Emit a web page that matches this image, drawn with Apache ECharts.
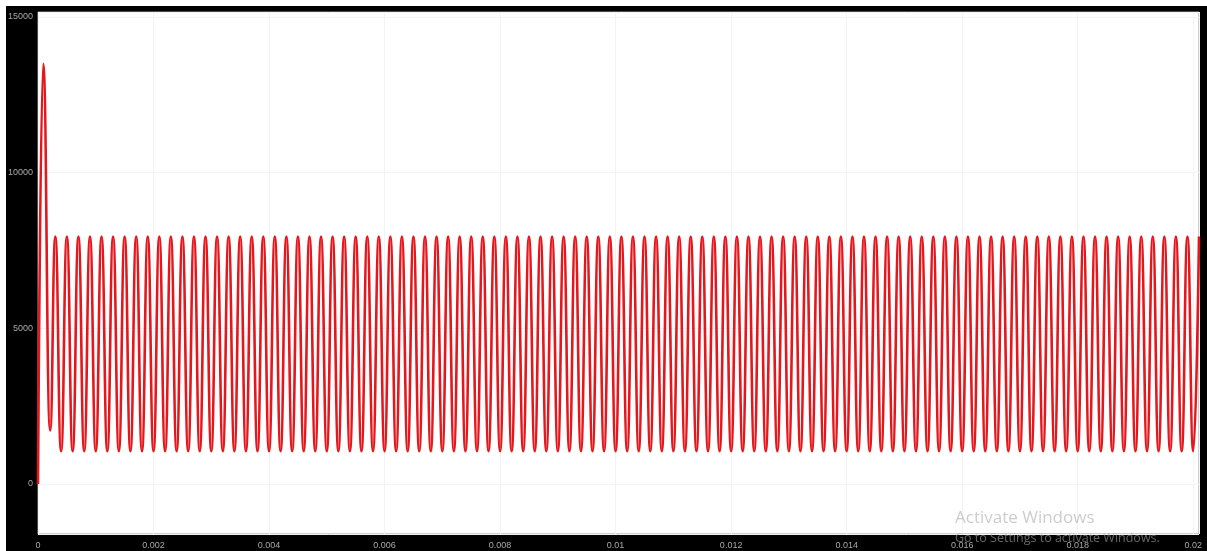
<!DOCTYPE html>
<html>
<head>
<meta charset="utf-8">
<title>Scope</title>
<script src="https://cdn.jsdelivr.net/npm/echarts@6/dist/echarts.min.js"></script>
<style>
  html, body { margin: 0; padding: 0; background: #fff; }
  #chart { width: 1207px; height: 551px; }
</style>
</head>
<body>
<div id="chart"></div>
<script>
// Start-up transient: time (s) and value
const startupTimes = [0, 0.00009, 0.00021];
const startupValues = [0, 13500, 1720];

// Steady oscillation: period 0.2 ms, first crest at 0.3 ms
const FIRST_PEAK = 0.0003;
const PERIOD = 0.0002;

// Crest values, one per cycle
const peakValues = [
  7950, 7950, 7950, 7950, 7950, 7950, 7950, 7950, 7950, 7950,
  7950, 7950, 7950, 7950, 7950, 7950, 7950, 7950, 7950, 7950,
  7950, 7950, 7950, 7950, 7950, 7950, 7950, 7950, 7950, 7950,
  7950, 7950, 7950, 7950, 7950, 7950, 7950, 7950, 7950, 7950,
  7950, 7950, 7950, 7950, 7950, 7950, 7950, 7950, 7950, 7950,
  7950, 7950, 7950, 7950, 7950, 7950, 7950, 7950, 7950, 7950,
  7950, 7950, 7950, 7950, 7950, 7950, 7950, 7950, 7950, 7950,
  7950, 7950, 7950, 7950, 7950, 7950, 7950, 7950, 7950, 7950,
  7950, 7950, 7950, 7950, 7950, 7950, 7950, 7950, 7950, 7950,
  7950, 7950, 7950, 7950, 7950, 7950, 7950, 7950, 7950, 7950
];

// Trough values between consecutive crests
const troughValues = [
  1050, 1050, 1050, 1050, 1050, 1050, 1050, 1050, 1050, 1050,
  1050, 1050, 1050, 1050, 1050, 1050, 1050, 1050, 1050, 1050,
  1050, 1050, 1050, 1050, 1050, 1050, 1050, 1050, 1050, 1050,
  1050, 1050, 1050, 1050, 1050, 1050, 1050, 1050, 1050, 1050,
  1050, 1050, 1050, 1050, 1050, 1050, 1050, 1050, 1050, 1050,
  1050, 1050, 1050, 1050, 1050, 1050, 1050, 1050, 1050, 1050,
  1050, 1050, 1050, 1050, 1050, 1050, 1050, 1050, 1050, 1050,
  1050, 1050, 1050, 1050, 1050, 1050, 1050, 1050, 1050, 1050,
  1050, 1050, 1050, 1050, 1050, 1050, 1050, 1050, 1050, 1050,
  1050, 1050, 1050, 1050, 1050, 1050, 1050, 1050, 1050
];

// Axis tick labels
const yTickLabels = ['0', '5000', '10000', '15000'];
const xTickLabels = ['0', '0.002', '0.004', '0.006', '0.008', '0.01', '0.012', '0.014', '0.016', '0.018', '0.02'];

// Assemble [time, value] pairs
const signal = [];
startupTimes.forEach((t, i) => signal.push([t, startupValues[i]]));
peakValues.forEach((v, k) => {
  const t = FIRST_PEAK + k * PERIOD;
  signal.push([+t.toFixed(6), v]);
  if (k < troughValues.length) {
    signal.push([+(t + PERIOD / 2).toFixed(6), troughValues[k]]);
  }
});

const X_MAX = 0.0201;
const Y_MIN = -1606;
const Y_MAX = 15160;

const chart = echarts.init(document.getElementById('chart'), null, { renderer: 'canvas' });

function xLabel(v) {
  const idx = Math.round(v / 0.002);
  if (Math.abs(v - idx * 0.002) > 1e-9) return '';
  return xTickLabels[idx] !== undefined ? xTickLabels[idx] : '';
}
function yLabel(v) {
  if (v % 5000 !== 0) return '';
  const idx = v / 5000;
  return yTickLabels[idx] !== undefined ? yTickLabels[idx] : '';
}

chart.setOption({
  animation: false,
  backgroundColor: '#000000',
  grid: {
    left: 38, right: 8, top: 12, bottom: 17,
    show: true,
    backgroundColor: '#ffffff',
    borderColor: '#9c9c9c',
    borderWidth: 1
  },
  xAxis: {
    type: 'value',
    min: 0,
    max: X_MAX,
    interval: 0.002,
    axisLine: { show: false },
    axisTick: { show: false },
    axisLabel: {
      color: '#a8a8a8',
      fontSize: 9,
      fontFamily: 'Liberation Sans, Arial, sans-serif',
      margin: 7,
      formatter: xLabel
    },
    splitLine: { show: true, lineStyle: { color: '#f3f3f3', width: 1 } }
  },
  yAxis: {
    type: 'value',
    min: Y_MIN,
    max: Y_MAX,
    splitNumber: 3,
    minInterval: 5000,
    maxInterval: 5000,
    axisLine: { show: false },
    axisTick: { show: false },
    axisLabel: {
      color: '#a8a8a8',
      fontSize: 9,
      fontFamily: 'Liberation Sans, Arial, sans-serif',
      margin: 5,
      formatter: yLabel
    },
    splitLine: { show: true, lineStyle: { color: '#f3f3f3', width: 1 } }
  },
  series: [{
    type: 'line',
    data: signal,
    showSymbol: false,
    smooth: 0.5,
    smoothMonotone: 'x',
    clip: true,
    lineStyle: { color: '#e5161c', width: 2.6 }
  }],
  graphic: [
    { type: 'rect', left: 0, top: 0, shape: { width: 1207, height: 6 }, style: { fill: '#ffffff' }, z: 100 },
    { type: 'rect', left: 0, top: 0, shape: { width: 6, height: 551 }, style: { fill: '#ffffff' }, z: 100 },
    {
      type: 'text', left: 955, top: 510, z: 100,
      style: { text: 'Activate Windows', fill: 'rgba(170,170,170,0.6)', font: '17px "Open Sans", "Noto Sans", sans-serif' }
    },
    {
      type: 'text', left: 955, top: 532, z: 100,
      style: { text: 'Go to Settings to activate Windows.', fill: 'rgba(170,170,170,0.6)', font: '12.5px "Open Sans", "Noto Sans", sans-serif' }
    }
  ]
});
</script>
</body>
</html>
